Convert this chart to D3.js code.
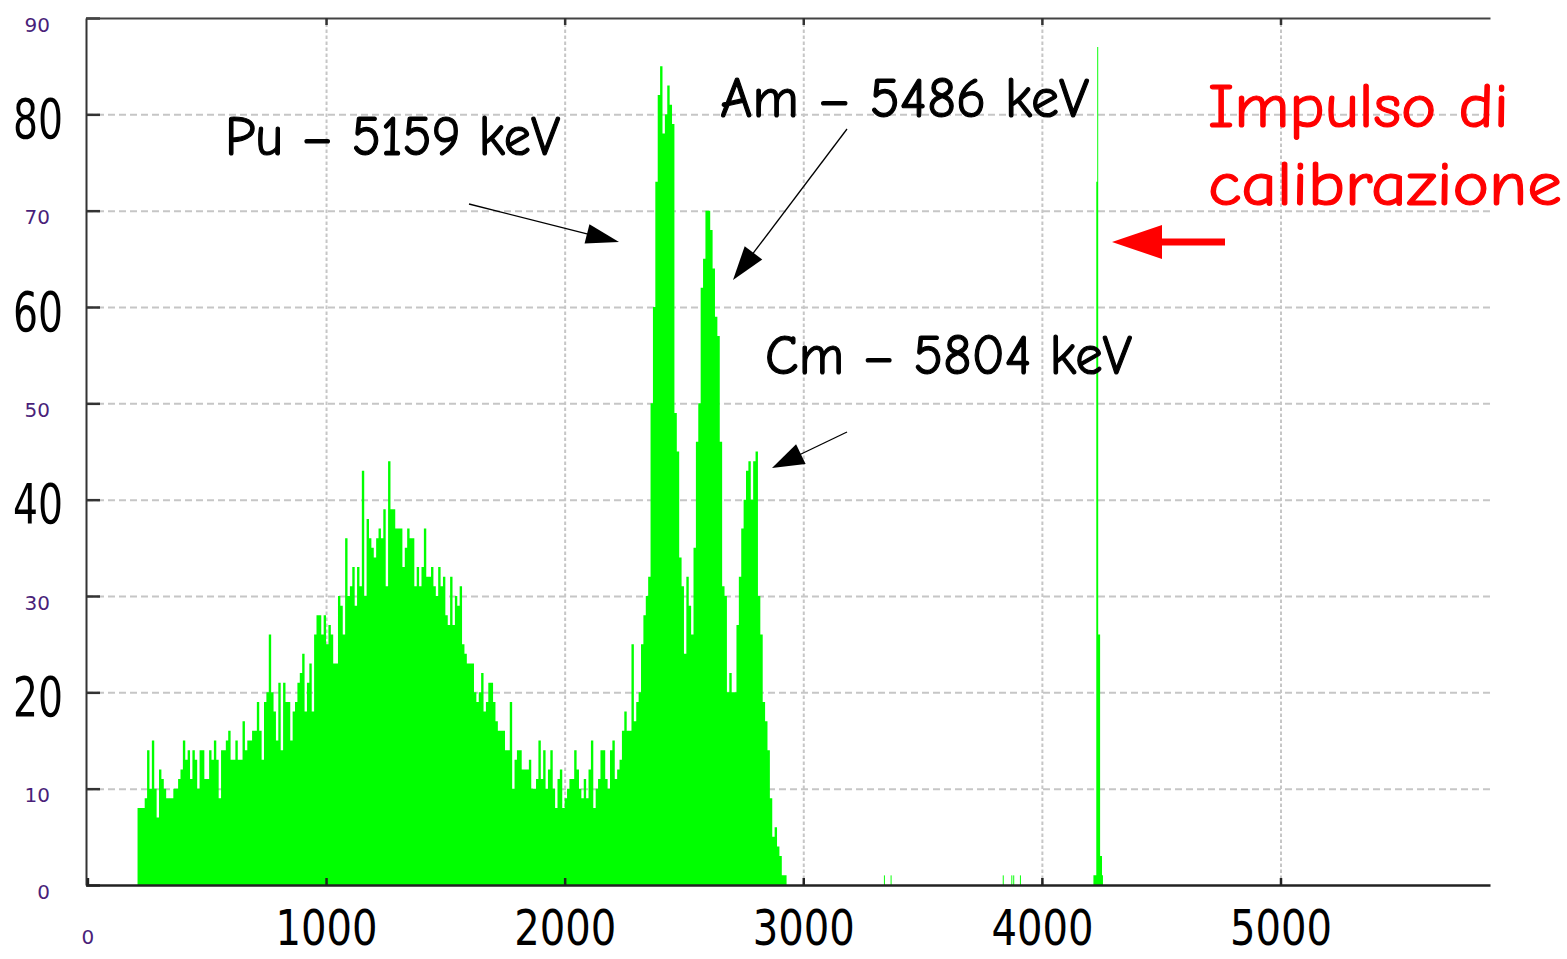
<!DOCTYPE html>
<html>
<head>
<meta charset="utf-8">
<script src="https://cdn.jsdelivr.net/npm/d3@7/dist/d3.min.js"></script>
<style>
  body { margin: 0; background: #fff; }
</style>
</head>
<body>
<script>
// spectrum: counts per channel bin
var binStart = 210, binWidth = 10;
var counts = [
  8,8,8,9,14,10,15,10,7,12,
  11,10,9,9,9,10,10,11,12,15,
  13,14,11,14,13,10,14,14,11,11,
  14,13,15,13,9,14,14,15,16,13,
  13,15,13,13,17,14,15,15,16,16,
  19,16,13,19,20,26,20,18,15,21,
  14,21,19,19,15,18,19,21,22,24,
  18,21,23,18,26,28,28,26,28,25,
  27,26,23,23,30,29,26,36,30,31,
  33,29,33,31,43,30,38,36,35,34,
  36,37,36,39,31,44,39,39,37,37,
  37,33,35,37,36,36,31,33,31,33,
  37,32,32,33,31,30,33,31,32,28,
  27,32,27,30,29,31,25,24,23,23,
  23,20,19,20,22,18,19,21,21,19,
  17,16,16,16,14,14,19,10,13,14,
  14,12,12,12,13,10,10,11,15,11,
  14,10,12,14,10,8,11,12,8,9,
  10,11,11,14,12,10,9,11,9,12,
  15,8,10,11,14,14,11,10,14,15,
  11,12,13,16,18,16,16,25,17,19,
  20,25,28,30,32,50,60,73,82,85,
  78,80,83,81,79,49,45,34,31,24,
  32,29,26,35,46,50,62,65,70,70,
  68,64,59,57,46,31,30,20,22,20,
  20,27,32,37,40,43,44,40,44,45,
  30,26,19,17,14,9,5,6,4,3,
  1,1
];

// calibration pulse
var calStart = 4216, calWidth = 4;
var calCounts = [1,1,1,73,87,26,26,3,3,1];

// isolated single counts
var strayChannels = [3338,3366,3836,3872,3880,3908];
var strayCounts = [1,1,1,1,1,1];
var strayWidth = 4;

var yTicks = [0,10,20,30,40,50,60,70,80,90];
var bigYTicks = [20,40,60,80];
var xTicks = [0,1000,2000,3000,4000,5000];

var width = 1567, height = 959;
var bigFont = "'Liberation Sans Narrow','DejaVu Sans Condensed','DejaVu Sans',sans-serif";
var smallFont = "'DejaVu Sans',sans-serif";
var smallColor = "#4a1f7a";

var x = d3.scaleLinear().domain([-6, 5878]).range([86, 1490]);
var y = d3.scaleLinear().domain([0, 90]).range([885, 18]);

var svg = d3.select("body").append("svg")
    .attr("width", width)
    .attr("height", height)
    .style("display", "block");

svg.append("rect").attr("width", width).attr("height", height).attr("fill", "#fff");

// grid
var gridY = svg.append("g")
    .attr("transform", "translate(86,0)")
    .call(d3.axisLeft(y).tickValues(yTicks.filter(function(v) { return v > 0 && v < 90; }))
      .tickSize(-(1490 - 86)).tickFormat(""));
gridY.select(".domain").remove();
gridY.selectAll("line")
    .attr("stroke", "#c6c6c6")
    .attr("stroke-width", 2)
    .attr("stroke-dasharray", "7,4");

var gridX = svg.append("g")
    .attr("transform", "translate(0,885)")
    .call(d3.axisBottom(x).tickValues(xTicks.filter(function(v) { return v > 0; }))
      .tickSize(-(885 - 18)).tickFormat(""));
gridX.select(".domain").remove();
gridX.selectAll("line")
    .attr("stroke", "#c6c6c6")
    .attr("stroke-width", 2)
    .attr("stroke-dasharray", "3.5,2.5");

// histogram
function steps(start, w, vals) {
  var pts = vals.map(function(v, i) { return {e: start + i * w, n: v}; });
  pts.push({e: start + vals.length * w, n: 0});
  return pts;
}

var area = d3.area()
    .curve(d3.curveStepAfter)
    .x(function(d) { return x(d.e); })
    .y0(y(0))
    .y1(function(d) { return y(d.n); });

svg.append("path")
    .datum(steps(binStart, binWidth, counts))
    .attr("fill", "#00ff00")
    .attr("d", area);

svg.append("path")
    .datum(steps(calStart, calWidth, calCounts))
    .attr("fill", "#00ff00")
    .attr("d", area);

svg.selectAll("rect.stray")
    .data(strayChannels)
  .enter().append("rect")
    .attr("class", "stray")
    .attr("fill", "#00ff00")
    .attr("x", function(d) { return x(d); })
    .attr("width", function(d) { return x(d + strayWidth) - x(d); })
    .attr("y", function(d, i) { return y(strayCounts[i]); })
    .attr("height", function(d, i) { return y(0) - y(strayCounts[i]); });

// axes
function isBig(d) { return bigYTicks.indexOf(d) >= 0; }

var yAxis = svg.append("g")
    .attr("transform", "translate(86,0)")
    .call(d3.axisLeft(y).tickValues(yTicks).tickSize(-14).tickSizeOuter(0));
yAxis.select(".domain").attr("stroke", "#333").attr("stroke-width", 2);
yAxis.selectAll("line").attr("stroke", "#333").attr("stroke-width", 2.5);
yAxis.selectAll("text")
    .attr("x", function(d) { return isBig(d) ? -23 : -36; })
    .attr("dy", function(d) { return isBig(d) ? 23 : 13; })
    .attr("font-family", function(d) { return isBig(d) ? bigFont : smallFont; })
    .attr("font-size", function(d) { return isBig(d) ? 55 : 20; })
    .attr("fill", function(d) { return isBig(d) ? "#000" : smallColor; })
    .each(function(d) {
      if (isBig(d)) d3.select(this).attr("textLength", 50).attr("lengthAdjust", "spacingAndGlyphs");
    });

var xAxis = svg.append("g")
    .attr("transform", "translate(0,885)")
    .call(d3.axisBottom(x).tickValues(xTicks).tickSize(-7).tickSizeOuter(0).tickFormat(d3.format("d")));
xAxis.select(".domain").attr("stroke", "#222").attr("stroke-width", 2.5);
xAxis.selectAll("line").attr("stroke", "#222").attr("stroke-width", 2.5);
xAxis.selectAll("text")
    .attr("y", function(d) { return d === 0 ? 59 : 60; })
    .attr("dy", 0)
    .attr("font-family", function(d) { return d === 0 ? smallFont : bigFont; })
    .attr("font-size", function(d) { return d === 0 ? 20 : 50; })
    .attr("fill", function(d) { return d === 0 ? smallColor : "#000"; })
    .each(function(d) {
      if (d > 0) d3.select(this).attr("textLength", 102).attr("lengthAdjust", "spacingAndGlyphs");
    });

var topAxis = svg.append("g")
    .attr("transform", "translate(0,18)")
    .call(d3.axisTop(x).tickValues(xTicks.filter(function(v) { return v > 0; }))
      .tickSize(-7).tickSizeOuter(0).tickFormat(""));
topAxis.select(".domain").attr("stroke", "#444").attr("stroke-width", 2);
topAxis.selectAll("line").attr("stroke", "#333").attr("stroke-width", 2.5);

// annotations
function arrow(g, x1, y1, x2, y2, headLen, headW, color, lw) {
  var dx = x2 - x1, dy = y2 - y1, len = Math.sqrt(dx * dx + dy * dy);
  var ux = dx / len, uy = dy / len;
  var bx = x2 - ux * headLen, by = y2 - uy * headLen;
  g.append("line")
      .attr("x1", x1).attr("y1", y1)
      .attr("x2", bx + ux * 2).attr("y2", by + uy * 2)
      .attr("stroke", color).attr("stroke-width", lw);
  g.append("path")
      .attr("d", "M" + x2 + "," + y2 +
        "L" + (bx - uy * headW / 2) + "," + (by + ux * headW / 2) +
        "L" + (bx + uy * headW / 2) + "," + (by - ux * headW / 2) + "Z")
      .attr("fill", color)
      .attr("stroke", "none");
}

var ann = svg.append("g")
    .attr("font-family", "'Comic Sans MS','Comic Neue',Lato,sans-serif");

function note(tx, ty, size, len, color, str) {
  ann.append("text").attr("x", tx).attr("y", ty)
      .attr("font-size", size).attr("textLength", len).attr("lengthAdjust", "spacingAndGlyphs")
      .attr("fill", color).attr("stroke", color).attr("stroke-width", 1.2)
      .text(str);
}

note(225, 155, 56, 335, "#000", "Pu – 5159 keV");
note(720, 117, 56, 369, "#000", "Am – 5486 keV");
note(765, 374, 56, 367, "#000", "Cm – 5804 keV");
note(1208, 127, 63, 301, "#ff0000", "Impulso di");
note(1208, 205, 63, 354, "#ff0000", "calibrazione");

arrow(ann, 469, 204, 619, 242, 33, 20, "#000", 1.3);
arrow(ann, 847, 129, 733, 280, 34, 22, "#000", 1.3);
arrow(ann, 847, 432, 772, 468, 32, 22, "#000", 1.3);
arrow(ann, 1225, 242, 1112, 242, 50, 34, "#ff0000", 7);
</script>
</body>
</html>
